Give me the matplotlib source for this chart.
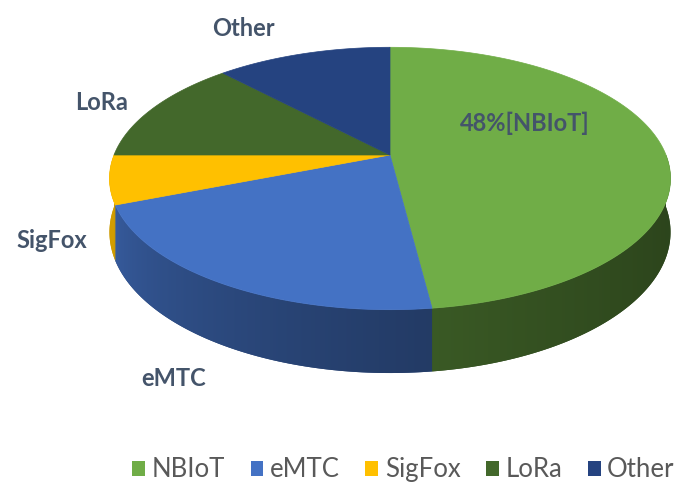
import numpy as np
import matplotlib
matplotlib.use("Agg")
import matplotlib.pyplot as plt
from matplotlib.patches import Polygon, Patch

# ---- data ----
categories = ["NBIoT", "eMTC", "SigFox", "LoRa", "Other"]
shares = [48, 21, 6, 13, 12]
colors = ["#70AD47", "#4472C4", "#FFC000", "#43682B", "#254380"]
slice_labels = ["48%[NBIoT]", "eMTC", "SigFox", "LoRa", "Other"]

# ---- layout (pixels) ----
W, H = 685, 490
cx, cy = 390, 155          # pie centre on top face
R, Rk = 276, 127.0         # horizontal / vertical radius
p = 0.179                  # perspective strength
h = 52                     # thickness
label_pos = [(525, 123), (174, 378), (52, 240), (102, 102), (243, 28)]
label_color = "#44546A"

plt.rcParams['font.family'] = ['Lato', 'DejaVu Sans']

fig = plt.figure(figsize=(W / 100, H / 100), dpi=100)
ax = fig.add_axes([0, 0, 1, 1])
ax.set_xlim(0, W)
ax.set_ylim(H, 0)
ax.axis("off")


def proj(t_deg, drop=0.0):
    t = np.radians(t_deg)
    c, s = np.cos(t), np.sin(t)
    den = 1 + p * s
    x = cx + R * c / den
    y = cy - Rk * s / den + drop / den
    return x, y


def side_factor(t_deg):
    u = np.clip(-np.asarray(t_deg) / 180.0, 0, 1)
    return 0.40 + 0.42 * u ** 1.6


# angles: start at 90 deg, clockwise
total = float(sum(shares))
bounds = [90.0]
for v in shares:
    bounds.append(bounds[-1] - 360.0 * v / total)

# side walls (front half: -180..0), gradient via clipped image
for i, col in enumerate(colors):
    a1, a2 = bounds[i], bounds[i + 1]
    hi, lo = min(a1, 0.0), max(a2, -180.0)
    if hi <= lo:
        continue
    ts = np.linspace(hi, lo, max(3, int(hi - lo) + 2))
    xt, yt = proj(ts)
    xb, yb = proj(ts[::-1], h)
    pts = list(zip(xt, yt)) + list(zip(xb, yb))
    rgb = np.array(matplotlib.colors.to_rgb(col))
    fmid = float(side_factor((hi + lo) / 2))
    poly = Polygon(pts, closed=True, facecolor=tuple(rgb * fmid),
                   edgecolor="none", zorder=1)
    ax.add_patch(poly)
    x0, x1 = min(min(xt), min(xb)) - 2, max(max(xt), max(xb)) + 2
    y0, y1 = min(min(yt), min(yb)) - 2, max(max(yt), max(yb)) + 2
    ncol = int(x1 - x0) + 1
    xs = np.linspace(x0, x1, ncol)
    cosv = np.clip((xs - cx) / R, -1, 1)
    tv = -np.degrees(np.arccos(cosv))
    f = side_factor(tv)
    img = np.tile((rgb[None, :] * f[:, None])[None, :, :], (2, 1, 1))
    im = ax.imshow(img, extent=(x0, x1, y1, y0), aspect="auto",
                   interpolation="bilinear", zorder=2)
    im.set_clip_path(poly)

# top faces
for i, col in enumerate(colors):
    a1, a2 = bounds[i], bounds[i + 1]
    ts = np.linspace(a1, a2, max(3, int(abs(a1 - a2)) + 2))
    xs, ys = proj(ts)
    pts = [(cx, cy)] + list(zip(xs, ys))
    ax.add_patch(Polygon(pts, closed=True, facecolor=col, edgecolor=col,
                         linewidth=0.5, zorder=3))

ax.set_xlim(0, W)
ax.set_ylim(H, 0)

# labels
for lab, (x, y) in zip(slice_labels, label_pos):
    ax.text(x, y, lab, ha="center", va="center", fontsize=17,
            fontweight="bold", color=label_color, zorder=5)

# legend
handles = [Patch(facecolor=c, edgecolor="none") for c in colors]
fig.legend(handles, categories, loc="center", bbox_to_anchor=(0.589, 0.041),
           ncol=5, frameon=False, fontsize=18.5, handlelength=0.5,
           handleheight=0.5, handletextpad=0.25, columnspacing=1.0,
           labelcolor="#595959")

fig.savefig("out.png", dpi=100, facecolor="white")
